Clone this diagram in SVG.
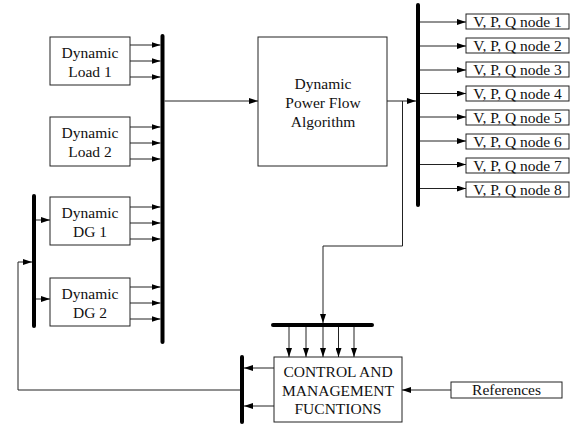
<svg xmlns="http://www.w3.org/2000/svg" width="575" height="426" viewBox="0 0 575 426">
<defs>
<marker id="ah" markerUnits="userSpaceOnUse" markerWidth="9" markerHeight="6" refX="9" refY="3" orient="auto">
<path d="M0,0 L9,3 L0,6 z" fill="#000"/>
</marker>
<style>
.box{fill:#fff;stroke:#222;stroke-width:1}
.t{font-size:15.5px;fill:#111;text-anchor:middle}
.ar{fill:none;stroke:#222;stroke-width:1;marker-end:url(#ah)}
.bus{fill:none;stroke:#000;stroke-width:4;stroke-linecap:round}
</style>
</defs>
<rect width="575" height="426" fill="#fff"/>
<g font-family="Liberation Serif" font-size="15.5">
<g id="load1"><rect class="box" x="50" y="37" width="80" height="48"/><text class="t" x="90" y="57.5">Dynamic</text><text class="t" x="90" y="76.5">Load 1</text></g>
<g id="load2"><rect class="box" x="50" y="117" width="80" height="49"/><text class="t" x="90" y="137.5">Dynamic</text><text class="t" x="90" y="156.5">Load 2</text></g>
<g id="dg1"><rect class="box" x="50" y="197" width="80" height="48"/><text class="t" x="90" y="217.5">Dynamic</text><text class="t" x="90" y="236.5">DG 1</text></g>
<g id="dg2"><rect class="box" x="50" y="278" width="80" height="48"/><text class="t" x="90" y="298.5">Dynamic</text><text class="t" x="90" y="317.5">DG 2</text></g>
<g id="dpf"><rect class="box" x="258" y="37" width="129" height="129"/><text class="t" x="323" y="88.5">Dynamic</text><text class="t" x="323" y="107.5">Power Flow</text><text class="t" x="323" y="126.5">Algorithm</text></g>
<g id="node1"><rect class="box" x="466" y="14" width="103" height="15"/><text class="t" x="517.5" y="26.5">V, P, Q node 1</text></g>
<g id="node2"><rect class="box" x="466" y="38" width="103" height="15"/><text class="t" x="517.5" y="50.5">V, P, Q node 2</text></g>
<g id="node3"><rect class="box" x="466" y="62" width="103" height="15"/><text class="t" x="517.5" y="74.5">V, P, Q node 3</text></g>
<g id="node4"><rect class="box" x="466" y="86" width="103" height="15"/><text class="t" x="517.5" y="98.5">V, P, Q node 4</text></g>
<g id="node5"><rect class="box" x="466" y="110" width="103" height="15"/><text class="t" x="517.5" y="122.5">V, P, Q node 5</text></g>
<g id="node6"><rect class="box" x="466" y="134" width="103" height="15"/><text class="t" x="517.5" y="146.5">V, P, Q node 6</text></g>
<g id="node7"><rect class="box" x="466" y="158" width="103" height="15"/><text class="t" x="517.5" y="170.5">V, P, Q node 7</text></g>
<g id="node8"><rect class="box" x="466" y="182" width="103" height="15"/><text class="t" x="517.5" y="194.5">V, P, Q node 8</text></g>
<g id="control"><rect class="box" x="274" y="357" width="128" height="65"/><text class="t" x="338" y="377">CONTROL AND</text><text class="t" x="338" y="395.5">MANAGEMENT</text><text class="t" x="338" y="414">FUCNTIONS</text></g>
<g id="references"><rect class="box" x="451" y="382" width="111" height="16"/><text class="t" x="506.5" y="395">References</text></g>
</g>
<g id="buses">
<line class="bus" x1="162.5" y1="36" x2="162.5" y2="342"/>
<line class="bus" x1="34" y1="196" x2="34" y2="326"/>
<line class="bus" x1="418" y1="5" x2="418" y2="205"/>
<line class="bus" x1="273" y1="325" x2="372" y2="325"/>
<line class="bus" x1="242" y1="357" x2="242" y2="422"/>
</g>

<g id="connectors">
<line class="ar" x1="130" y1="45" x2="160.5" y2="45"/>
<line class="ar" x1="130" y1="61" x2="160.5" y2="61"/>
<line class="ar" x1="130" y1="77" x2="160.5" y2="77"/>
<line class="ar" x1="130" y1="127" x2="160.5" y2="127"/>
<line class="ar" x1="130" y1="143" x2="160.5" y2="143"/>
<line class="ar" x1="130" y1="159" x2="160.5" y2="159"/>
<line class="ar" x1="130" y1="207" x2="160.5" y2="207"/>
<line class="ar" x1="130" y1="223" x2="160.5" y2="223"/>
<line class="ar" x1="130" y1="239" x2="160.5" y2="239"/>
<line class="ar" x1="130" y1="287" x2="160.5" y2="287"/>
<line class="ar" x1="130" y1="303" x2="160.5" y2="303"/>
<line class="ar" x1="130" y1="319" x2="160.5" y2="319"/>
<line class="ar" x1="36" y1="220" x2="50" y2="220"/>
<line class="ar" x1="36" y1="299" x2="50" y2="299"/>
<line class="ar" x1="164.5" y1="101" x2="258" y2="101"/>
<line class="ar" x1="387" y1="101" x2="416" y2="101"/>
<line class="ar" x1="420" y1="22" x2="466" y2="22"/>
<line class="ar" x1="420" y1="46" x2="466" y2="46"/>
<line class="ar" x1="420" y1="70" x2="466" y2="70"/>
<line class="ar" x1="420" y1="93.5" x2="466" y2="93.5"/>
<line class="ar" x1="420" y1="117" x2="466" y2="117"/>
<line class="ar" x1="420" y1="141" x2="466" y2="141"/>
<line class="ar" x1="420" y1="164.5" x2="466" y2="164.5"/>
<line class="ar" x1="420" y1="188.5" x2="466" y2="188.5"/>
<polyline class="ar" points="402.5,101 402.5,246 323,246 323,323"/>
<line class="ar" x1="289" y1="327" x2="289" y2="357"/>
<line class="ar" x1="306" y1="327" x2="306" y2="357"/>
<line class="ar" x1="323" y1="327" x2="323" y2="357"/>
<line class="ar" x1="338.5" y1="327" x2="338.5" y2="357"/>
<line class="ar" x1="354" y1="327" x2="354" y2="357"/>
<line class="ar" x1="274" y1="368" x2="244" y2="368"/>
<line class="ar" x1="274" y1="406" x2="244" y2="406"/>
<line class="ar" x1="451" y1="390" x2="402" y2="390"/>
<polyline class="ar" points="240,390 18,390 18,262 32,262"/>
</g>
</svg>
